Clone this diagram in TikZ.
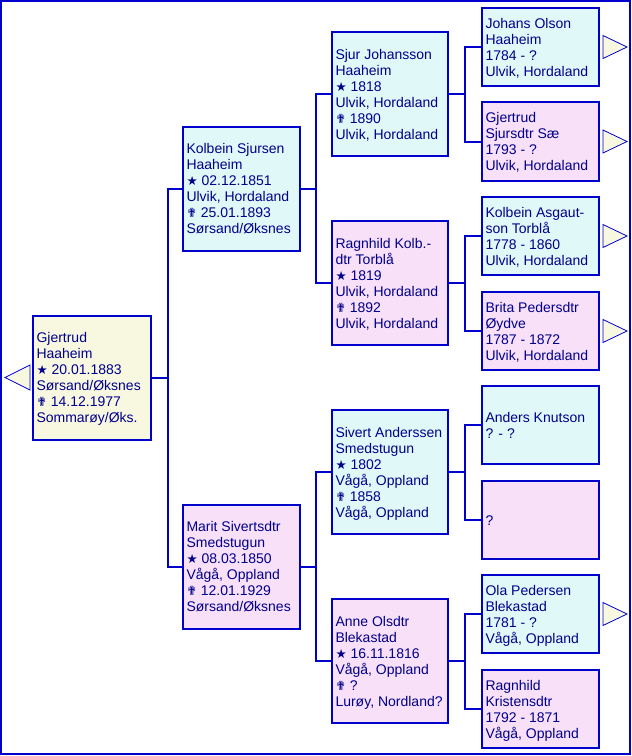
\documentclass[tikz,border=0pt]{standalone}
\usepackage{fontspec}
\setmainfont{Liberation Sans}
\newfontfamily\symfont{DejaVu Sans}
\newcommand\bstar{{\symfont\fontsize{12.5}{16}\selectfont ★}}
\newcommand\bcross{{\symfont\fontsize{12.5}{16}\selectfont ✟}}
\definecolor{lineblue}{RGB}{0,0,204}
\definecolor{txtblue}{RGB}{0,0,140}
\definecolor{malefill}{RGB}{224,248,248}
\definecolor{femfill}{RGB}{248,224,248}
\definecolor{rootfill}{RGB}{248,248,224}
\tikzset{
  pbox/.style={draw=lineblue, line width=2pt, inner sep=0pt, outer sep=0pt, rectangle},
  ptext/.style={anchor=base west, align=left, inner sep=0pt, outer sep=0pt, text=txtblue, font=\fontsize{14}{16}\selectfont},
  link/.style={draw=lineblue, line width=2pt},
  more/.style={draw=lineblue, line width=0.8pt, fill=rootfill},
}
% name, x1, y1, x2, y2, fill, number of lines, text  (anchored at last baseline)
\newcommand\person[8]{%
  \node[pbox, fill=#6, minimum width={(#4-#2)*1pt}, minimum height={(#5-#3)*1pt}] (#1) at ({(#2+#4)/2},{(#3+#5)/2}) {};
  \node[ptext] (#1t) at ({#2+3.5},{(#3+#5)/2+8*(#7-1)+5}) {#8};
}
\begin{document}
\begin{tikzpicture}[x=1pt,y=-1pt]
\useasboundingbox (0,0) rectangle (632,756);
\fill[white] (0,0) rectangle (632,756);
\draw[lineblue, line width=2pt] (1,1) rectangle (630,754);

\person{root}{33}{315.5}{151}{439.5}{rootfill}{6}{Gjertrud\\Haaheim\\\bstar\ 20.01.1883\\Sørsand/Øksnes\\\bcross\ 14.12.1977\\Sommarøy/Øks.}

\person{g1a}{183}{126.5}{300}{250.5}{malefill}{6}{Kolbein Sjursen\\Haaheim\\\bstar\ 02.12.1851\\Ulvik, Hordaland\\\bcross\ 25.01.1893\\Sørsand/Øksnes}
\person{g1b}{183}{504.5}{300}{628.5}{femfill}{6}{Marit Sivertsdtr\\Smedstugun\\\bstar\ 08.03.1850\\Vågå, Oppland\\\bcross\ 12.01.1929\\Sørsand/Øksnes}

\person{g2a}{332}{32}{448}{156}{malefill}{6}{Sjur Johansson\\Haaheim\\\bstar\ 1818\\Ulvik, Hordaland\\\bcross\ 1890\\Ulvik, Hordaland}
\person{g2b}{332}{221}{448}{345}{femfill}{6}{Ragnhild Kolb.-\\dtr Torblå\\\bstar\ 1819\\Ulvik, Hordaland\\\bcross\ 1892\\Ulvik, Hordaland}
\person{g2c}{332}{410}{448}{534}{malefill}{6}{Sivert Anderssen\\Smedstugun\\\bstar\ 1802\\Vågå, Oppland\\\bcross\ 1858\\Vågå, Oppland}
\person{g2d}{332}{599}{448}{723}{femfill}{6}{Anne Olsdtr\\Blekastad\\\bstar\ 16.11.1816\\Vågå, Oppland\\\bcross\ ?\\Lurøy, Nordland?}

\person{g3a}{482}{8}{599}{86}{malefill}{4}{Johans Olson\\Haaheim\\1784 - ?\\Ulvik, Hordaland}
\person{g3b}{482}{102}{599}{181}{femfill}{4}{Gjertrud\\Sjursdtr Sæ\\1793 - ?\\Ulvik, Hordaland}
\person{g3c}{482}{197}{599}{275}{malefill}{4}{Kolbein Asgaut-\\son Torblå\\1778 - 1860\\Ulvik, Hordaland}
\person{g3d}{482}{292}{599}{370}{femfill}{4}{Brita Pedersdtr\\Øydve\\1787 - 1872\\Ulvik, Hordaland}
\person{g3e}{482}{386}{599}{464}{malefill}{2}{Anders Knutson\\? - ?}
\person{g3f}{482}{481}{599}{559}{femfill}{1}{?}
\person{g3g}{482}{575}{599}{653}{malefill}{4}{Ola Pedersen\\Blekastad\\1781 - ?\\Vågå, Oppland}
\person{g3h}{482}{670}{599}{748}{femfill}{4}{Ragnhild\\Kristensdtr\\1792 - 1871\\Vågå, Oppland}

% connectors
\draw[link] (root.east) -- ++(17,0) |- (g1a.west);
\draw[link] (root.east) -- ++(17,0) |- (g1b.west);
\draw[link] (g1a.east) -- ++(16,0) |- (g2a.west);
\draw[link] (g1a.east) -- ++(16,0) |- (g2b.west);
\draw[link] (g1b.east) -- ++(16,0) |- (g2c.west);
\draw[link] (g1b.east) -- ++(16,0) |- (g2d.west);
\draw[link] (g2a.east) -- ++(17,0) |- (g3a.west);
\draw[link] (g2a.east) -- ++(17,0) |- (g3b.west);
\draw[link] (g2b.east) -- ++(17,0) |- (g3c.west);
\draw[link] (g2b.east) -- ++(17,0) |- (g3d.west);
\draw[link] (g2c.east) -- ++(17,0) |- (g3e.west);
\draw[link] (g2c.east) -- ++(17,0) |- (g3f.west);
\draw[link] (g2d.east) -- ++(17,0) |- (g3g.west);
\draw[link] (g2d.east) -- ++(17,0) |- (g3h.west);

% more-ancestors markers
\foreach \n in {g3a,g3b,g3c,g3d,g3g}
  \draw[more] ([xshift=4pt,yshift=11.5pt]\n.east) -- ++(0,23) -- ++(24,-11.5) -- cycle;
\draw[more] ([xshift=-3pt,yshift=12.5pt]root.west) -- ++(0,25) -- ++(-25,-12.5) -- cycle;
\end{tikzpicture}
\end{document}
